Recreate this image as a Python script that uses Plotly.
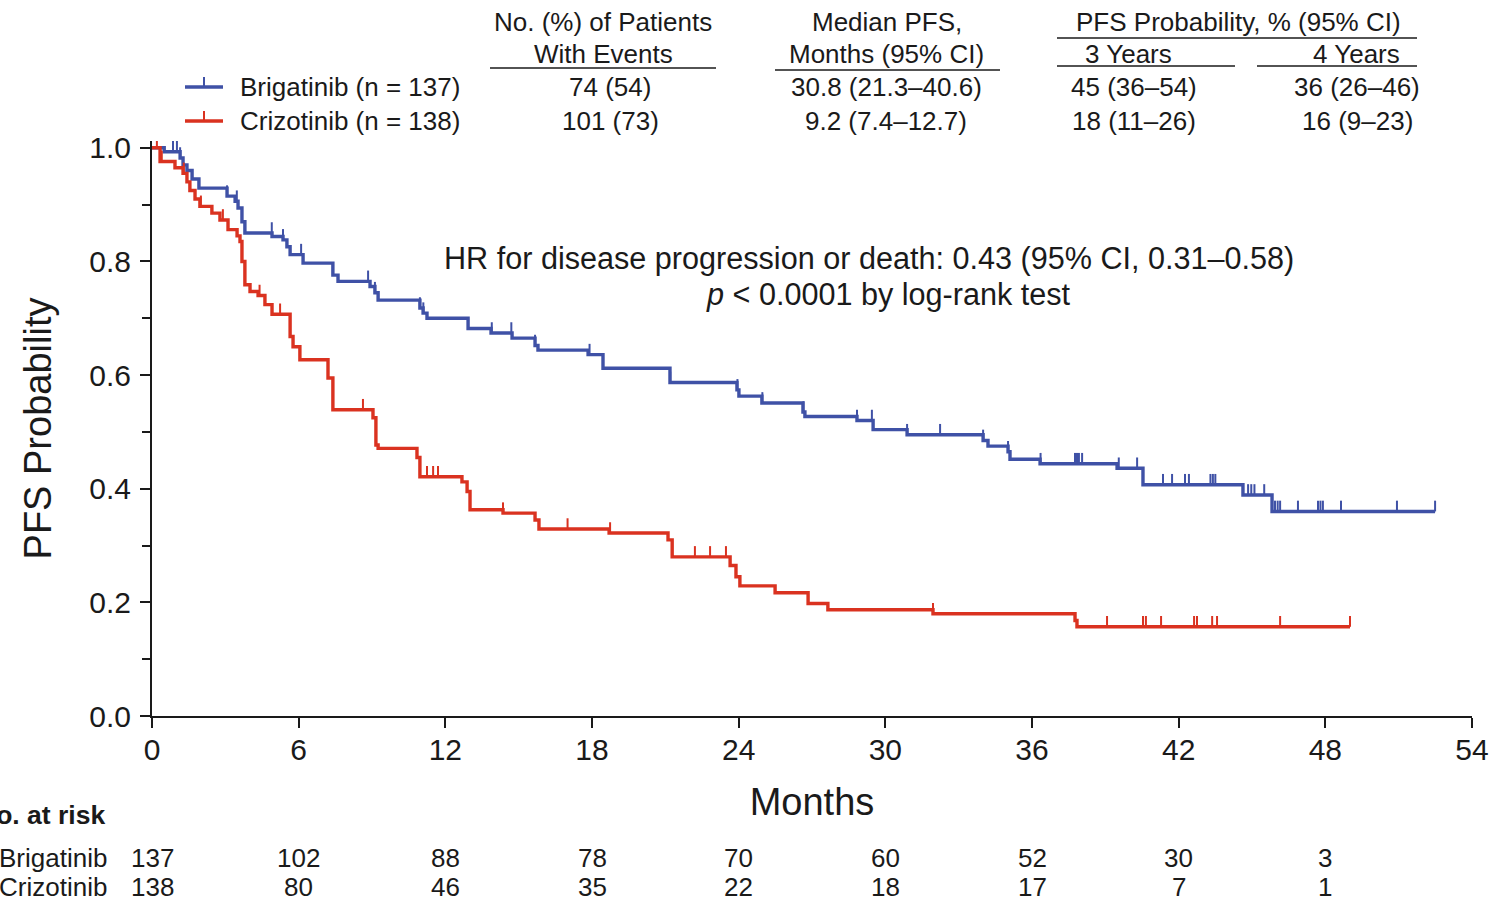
import plotly.graph_objects as go

# ---------------- Kaplan-Meier data (months, PFS probability after each event) ----------------
brig_times = [0, 0.5, 1.15, 1.27, 1.43, 1.64, 1.92, 3.07, 3.40, 3.52, 3.68, 3.80, 4.91, 5.36,
              5.52, 5.65, 6.18, 7.40, 7.61, 8.92, 9.12, 9.25, 10.96, 11.09, 11.25, 12.93,
              13.87, 14.73, 15.67, 15.79, 17.84, 18.45, 21.19, 23.93, 24.01, 24.95, 26.63,
              26.71, 28.84, 29.50, 30.89, 34.00, 34.20, 35.02, 35.10, 36.33, 39.48, 40.54,
              44.63, 45.82]
brig_surv = [1.0, 0.993, 0.982, 0.970, 0.960, 0.945, 0.929, 0.915, 0.906, 0.894, 0.870, 0.850,
             0.844, 0.838, 0.826, 0.812, 0.797, 0.776, 0.765, 0.756, 0.745, 0.732, 0.718, 0.709,
             0.700, 0.682, 0.674, 0.665, 0.652, 0.644, 0.636, 0.612, 0.587, 0.574, 0.563, 0.551,
             0.535, 0.527, 0.520, 0.504, 0.495, 0.485, 0.475, 0.465, 0.452, 0.444, 0.436, 0.407,
             0.389, 0.360]
brig_end = 52.49
brig_censor = [0.86, 1.02, 1.15, 3.07, 3.47, 4.90, 5.36, 6.10, 7.40, 8.84, 9.12, 10.96, 11.10,
               12.93, 13.90, 14.70, 15.67, 17.90, 21.20, 23.95, 24.97, 26.65, 28.84, 29.45,
               30.89, 32.24, 34.00, 35.02, 36.35, 37.76, 37.84, 37.92, 38.05, 39.55, 40.30,
               40.54, 41.36, 41.73, 42.26, 42.42, 43.30, 43.40, 43.50, 44.84, 44.97, 45.10,
               45.50, 45.94, 46.05, 46.15, 46.88, 47.70, 47.80, 47.90, 48.64, 50.93, 52.49]

criz_times = [0, 0.33, 0.94, 1.27, 1.43, 1.55, 1.76, 1.96, 2.45, 2.78, 3.11, 3.48, 3.60, 3.68,
              3.80, 4.01, 4.34, 4.62, 4.91, 5.65, 5.77, 6.05, 7.20, 7.40, 9.04, 9.16, 9.25,
              10.84, 10.96, 12.68, 12.89, 13.01, 14.36, 15.67, 15.83, 18.70, 21.11, 21.28,
              23.65, 23.89, 24.05, 25.49, 26.84, 27.65, 31.95, 37.76, 37.84]
criz_surv = [1.0, 0.976, 0.965, 0.955, 0.940, 0.925, 0.910, 0.897, 0.885, 0.873, 0.856, 0.845,
             0.835, 0.800, 0.759, 0.747, 0.740, 0.724, 0.707, 0.668, 0.650, 0.627, 0.595, 0.539,
             0.525, 0.477, 0.471, 0.455, 0.421, 0.412, 0.395, 0.363, 0.357, 0.345, 0.329, 0.322,
             0.310, 0.280, 0.265, 0.245, 0.229, 0.217, 0.198, 0.187, 0.180, 0.168, 0.157]
criz_end = 49.01
criz_censor = [0.20, 0.40, 1.30, 2.00, 2.90, 4.40, 5.24, 8.63, 11.25, 11.50, 11.70, 14.36,
               17.00, 18.74, 22.21, 22.83, 23.48, 31.95, 39.07, 40.54, 40.66, 41.28, 42.63,
               42.75, 43.37, 43.57, 46.15, 49.01]

# ---------------- Numbers at risk ----------------
risk_months = [0, 6, 12, 18, 24, 30, 36, 42, 48]
risk_brig = [137, 102, 88, 78, 70, 60, 52, 30, 3]
risk_criz = [138, 80, 46, 35, 22, 18, 17, 7, 1]

# ---------------- Summary table ----------------
arm_labels = ["Brigatinib (n = 137)", "Crizotinib (n = 138)"]
events = ["74 (54)", "101 (73)"]
median_pfs = ["30.8 (21.3–40.6)", "9.2 (7.4–12.7)"]
pfs_3y = ["45 (36–54)", "18 (11–26)"]
pfs_4y = ["36 (26–46)", "16 (9–23)"]

BLUE = "#3F51A6"
RED = "#DA3220"
INK = "#1a1a1a"
FONT = "Liberation Sans, Arial, sans-serif"

W, H = 1496, 903
ML, MR, MT, MB = 152, 24, 141, 187
PW, PH = W - ML - MR, H - MT - MB


def px(xpix):
    return (xpix - ML) / PW


def py(ypix):
    return (H - MB - ypix) / PH


def surv_at(times, surv, t):
    v = surv[0]
    for ti, si in zip(times, surv):
        if ti <= t + 1e-9:
            v = si
    return v


fig = go.Figure()

for times, surv, end, cens, color in [
    (brig_times, brig_surv, brig_end, brig_censor, BLUE),
    (criz_times, criz_surv, criz_end, criz_censor, RED),
]:
    fig.add_trace(go.Scatter(
        x=times + [end], y=surv + [surv[-1]], mode="lines",
        line=dict(color=color, width=3.4, shape="hv"), hoverinfo="skip", showlegend=False))
    cy = [surv_at(times, surv, t) for t in cens]
    fig.add_trace(go.Scatter(
        x=cens, y=cy, mode="markers", marker=dict(size=1, opacity=0, color=color),
        error_y=dict(type="data", symmetric=False, array=[0.019] * len(cens),
                     arrayminus=[0] * len(cens), width=0, thickness=2, color=color),
        hoverinfo="skip", showlegend=False))

annotations = []


def add_text(text, x, y, size=26, xref="paper", yref="paper", xanchor="center", bold=False,
             yanchor="middle"):
    annotations.append(dict(
        text=f"<b>{text}</b>" if bold else text, x=x, y=y, xref=xref, yref=yref,
        xanchor=xanchor, yanchor=yanchor, showarrow=False, borderpad=0,
        font=dict(family=FONT, size=size, color=INK)))


# header table
add_text("No. (%) of Patients", px(603), py(22))
add_text("With Events", px(603), py(54))
add_text("Median PFS,", px(887), py(22))
add_text("Months (95% CI)", px(887), py(54))
add_text("PFS Probability, % (95% CI)", px(1238), py(22))
add_text("3 Years", px(1128), py(54))
add_text("4 Years", px(1356), py(54))

row_y = [87, 121]
for i in range(2):
    add_text(arm_labels[i], px(239), py(row_y[i]), xanchor="left")
    add_text(events[i], px(610), py(row_y[i]))
    add_text(median_pfs[i], px(886), py(row_y[i]))
    add_text(pfs_3y[i], px(1134), py(row_y[i]))
    add_text(pfs_4y[i], px(1357), py(row_y[i]))

# hazard ratio note
add_text("HR for disease progression or death: 0.43 (95% CI, 0.31–0.58)", px(869), py(258), size=30.6)
add_text("<i>p</i> &lt; 0.0001 by log-rank test", px(888), py(294), size=30.6)

# numbers at risk (row header starts just past the left page edge)
add_text("No. at risk", px(-24), py(815), size=26.5, xanchor="left", bold=True)
add_text("Brigatinib", px(-2), py(858), size=26, xanchor="left")
add_text("Crizotinib", px(-2), py(903), size=26, xanchor="left", yanchor="bottom")
for m, b, c in zip(risk_months, risk_brig, risk_criz):
    add_text(str(b), m, py(858), size=26, xref="x")
    add_text(str(c), m, py(903), size=26, xref="x", yanchor="bottom")

shapes = []


def hline(x0, x1, y, color=INK, width=1.6):
    shapes.append(dict(type="line", xref="paper", yref="paper", x0=px(x0), x1=px(x1),
                       y0=py(y), y1=py(y), line=dict(color=color, width=width)))


hline(490, 716, 68)
hline(775, 1000, 70)
hline(1057, 1417, 38)
hline(1057, 1235, 66)
hline(1257, 1417, 66)

# legend glyphs: line with censor tick
for yy, col in [(87, BLUE), (121, RED)]:
    shapes.append(dict(type="line", xref="paper", yref="paper", x0=px(185), x1=px(223),
                       y0=py(yy), y1=py(yy), line=dict(color=col, width=3.4)))
    shapes.append(dict(type="line", xref="paper", yref="paper", x0=px(204), x1=px(204),
                       y0=py(yy), y1=py(yy - 10), line=dict(color=col, width=2)))

fig.update_layout(
    width=W, height=H,
    margin=dict(l=ML, r=MR, t=MT, b=MB, pad=0, autoexpand=False),
    paper_bgcolor="white", plot_bgcolor="white",
    font=dict(family=FONT, color=INK),
    annotations=annotations, shapes=shapes,
    xaxis=dict(
        range=[0, 54], tickvals=list(range(0, 55, 6)), showgrid=False, zeroline=False,
        automargin=False,
        showline=True, linecolor=INK, linewidth=2, ticks="outside", ticklen=10, tickwidth=2,
        tickcolor=INK, tickfont=dict(size=30, family=FONT, color=INK), ticklabelstandoff=-4,
        title=dict(text="Months", font=dict(size=38, family=FONT, color=INK), standoff=23),
    ),
    yaxis=dict(
        range=[0, 1.012], tickvals=[0, 0.2, 0.4, 0.6, 0.8, 1.0], tickformat=".1f",
        automargin=False,
        showgrid=False, zeroline=False, showline=True, linecolor=INK, linewidth=2,
        ticks="outside", ticklen=10, tickwidth=2, tickcolor=INK,
        tickfont=dict(size=30, family=FONT, color=INK), ticklabelstandoff=3,
        minor=dict(tickvals=[0.1, 0.3, 0.5, 0.7, 0.9], ticks="outside", ticklen=8,
                   tickwidth=1.5, tickcolor=INK),
        title=dict(text="PFS Probability", font=dict(size=38, family=FONT, color=INK), standoff=26),
    ),
)

fig.write_html("out.html")
